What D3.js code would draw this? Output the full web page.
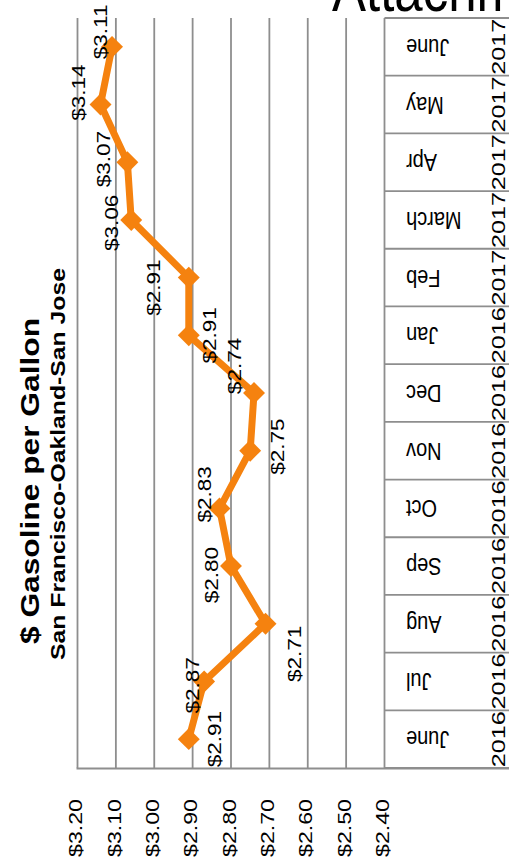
<!DOCTYPE html>
<html>
<head>
<meta charset="utf-8">
<script src="https://cdn.jsdelivr.net/npm/d3@7"></script>
<style>
  html, body { margin: 0; padding: 0; background: #fff; overflow: hidden; }
  svg { display: block; font-family: "Liberation Sans", Arial, sans-serif; }
</style>
</head>
<body>
<script>
// ---- data ----
const months = ["June","Jul","Aug","Sep","Oct","Nov","Dec","Jan","Feb","March","Apr","May","June"];
const years  = ["2016","2016","2016","2016","2016","2016","2016","2016","2017","2017","2017","2017","2017"];
const prices = [2.91, 2.87, 2.71, 2.80, 2.83, 2.75, 2.74, 2.91, 2.91, 3.06, 3.07, 3.14, 3.11];
const tickValues = [3.20, 3.10, 3.00, 2.90, 2.80, 2.70, 2.60, 2.50, 2.40];
const title = "$ Gasoline per Gallon";
const subtitle = "San Francisco-Oakland-San Jose";
const pageHeading = "Attachment";

// ---- layout ----
const W = 509, H = 865;
const S = 1.25; // vertical stretch of the rotated picture
const orange = "#F5820F";
const gridColor = "#8e8e8e";

const svg = d3.select("body").append("svg").attr("width", W).attr("height", H);

const x = d3.scaleLinear().domain([3.2, 2.4]).range([77.5, 384.5]);
const y = d3.scaleBand().domain(d3.range(months.length)).range([768, 18]);
const fmt = d3.format("$.2f");

// page heading (cut at top)
svg.append("text")
  .attr("transform", "translate(332,11) scale(1,1.2)")
  .attr("font-size", 51).attr("fill", "#000")
  .text(pageHeading);

// gridlines
svg.append("g").selectAll("line").data(tickValues).join("line")
  .attr("x1", d => x(d)).attr("x2", d => x(d))
  .attr("y1", y.range()[1]).attr("y2", y.range()[0])
  .attr("stroke", gridColor).attr("stroke-width", 1.8);

// bottom axis line
svg.append("line")
  .attr("x1", x(3.2) - 1).attr("x2", W)
  .attr("y1", 768.5).attr("y2", 768.5)
  .attr("stroke", gridColor).attr("stroke-width", 2);

// tick labels
svg.append("g").selectAll("text").data(tickValues).join("text")
  .attr("transform", d => `translate(${x(d) - 2},828) rotate(-90) scale(${S},1)`)
  .attr("text-anchor", "middle").attr("dominant-baseline", "central")
  .attr("font-size", 18.5).attr("fill", "#000")
  .text(d => fmt(d));

// data table
const table = svg.append("g");
table.append("line")
  .attr("x1", x(2.4)).attr("x2", W).attr("y1", y.range()[1]).attr("y2", y.range()[1])
  .attr("stroke", gridColor).attr("stroke-width", 1.8);
table.selectAll("line.sep").data(d3.range(months.length)).join("line")
  .attr("class", "sep")
  .attr("x1", x(2.4)).attr("x2", W)
  .attr("y1", d => y(d) + y.bandwidth()).attr("y2", d => y(d) + y.bandwidth())
  .attr("stroke", gridColor).attr("stroke-width", 1.8);
table.selectAll("text.m").data(months).join("text")
  .attr("class", "m")
  .attr("transform", (d, i) => `translate(406,${y(i) + y.bandwidth() / 2}) rotate(180) scale(1,1.15)`)
  .attr("text-anchor", "end").attr("dominant-baseline", "central")
  .attr("font-size", 20).attr("fill", "#000")
  .text(d => d);
table.selectAll("text.yr").data(years).join("text")
  .attr("class", "yr")
  .attr("transform", (d, i) => `translate(505,${y(i) + y.bandwidth() / 2}) rotate(-90) scale(1.36,1)`)
  .attr("text-anchor", "middle")
  .attr("font-size", 18.5).attr("fill", "#000")
  .text(d => d);

// line + markers
const cy = i => y(i) + y.bandwidth() / 2;
svg.append("path")
  .datum(prices)
  .attr("d", d3.line().x(d => x(d)).y((d, i) => cy(i)))
  .attr("fill", "none").attr("stroke", orange)
  .attr("stroke-width", 7).attr("stroke-linejoin", "round");

svg.append("g").selectAll("path").data(prices).join("path")
  .attr("transform", (d, i) => `translate(${x(d)},${cy(i)}) rotate(45)`)
  .attr("d", d3.symbol(d3.symbolSquare, 240))
  .attr("fill", orange);

// data labels (offsets relative to each marker)
const labelOffsets = [[26,0],[-11,4],[29,30],[-19,9],[-15,-14],[28,-4],[-19,-27],[21,0],[-35,10],[-19,3],[-24,-3],[-22,-12],[-11,-15]];
svg.append("g").selectAll("text").data(prices).join("text")
  .attr("transform", (d, i) => `translate(${x(d) + labelOffsets[i][0]},${cy(i) + labelOffsets[i][1]}) rotate(-90) scale(${S},1)`)
  .attr("text-anchor", "middle").attr("dominant-baseline", "central")
  .attr("font-size", 18).attr("fill", "#000")
  .text(d => fmt(d));

// titles
svg.append("text")
  .attr("transform", `translate(39,481) rotate(-90) scale(1.22,1)`)
  .attr("text-anchor", "middle").attr("font-weight", "bold")
  .attr("font-size", 26).attr("fill", "#000")
  .text(title);
svg.append("text")
  .attr("transform", `translate(65,464) rotate(-90) scale(1.27,1)`)
  .attr("text-anchor", "middle").attr("font-weight", "bold")
  .attr("font-size", 19.5).attr("fill", "#000")
  .text(subtitle);
</script>
</body>
</html>
